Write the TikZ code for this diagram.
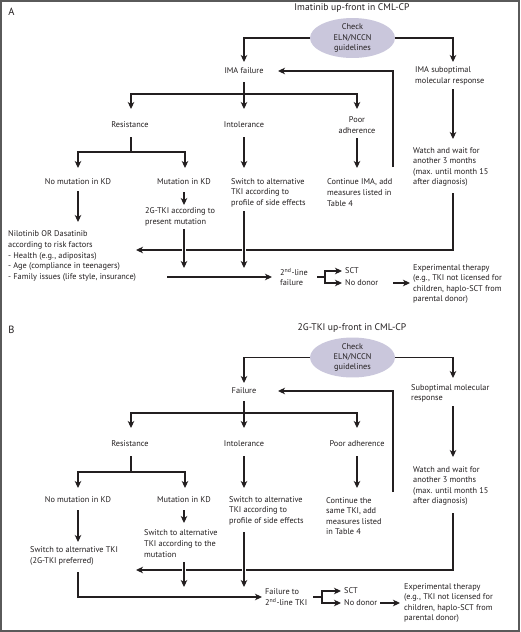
\documentclass[tikz,border=0pt]{standalone}
\usepackage{fontspec}
\setmainfont{PT Sans}
\usetikzlibrary{arrows.meta,shapes.geometric}
\definecolor{txtcol}{HTML}{231F20}
\definecolor{ellcol}{HTML}{CAC7DC}
\definecolor{framecol}{HTML}{5A5A5A}
\tikzset{
  txt/.style={font=\fontsize{8.3}{10.6}\selectfont, inner sep=0pt, text=txtcol},
  lt/.style={txt, align=left, anchor=west},
  ct/.style={txt, align=center},
  ttl/.style={font=\fontsize{9.6}{11}\selectfont, inner sep=0pt, text=txtcol},
  panlab/.style={font=\fontsize{10.5}{12}\selectfont, inner sep=0pt, text=txtcol},
  ell/.style={ellipse, fill=ellcol, minimum width=85pt, minimum height=38pt, inner sep=0pt,
              font=\fontsize{8.3}{10.3}\selectfont, align=center, text=txtcol},
  ln/.style={draw=txtcol, line width=1.1pt},
  arr/.style={ln, -{Stealth[length=7pt,width=6.5pt,inset=2pt]}},
  over/.style={preaction={draw=white, line width=4.5pt, -}}
}
\begin{document}
\begin{tikzpicture}[x=1pt,y=-1pt]
\useasboundingbox (0,0) rectangle (520,632);
\fill[white] (0,0) rectangle (520,632);
\draw[framecol, line width=1.6pt] (1,1) rectangle (519,631);

% ================= Panel A =================
\node[panlab] (labA) at (11.5,12) {A};
\node[ttl] (titA) at (352,8.5) {Imatinib up-front in CML-CP};
\node[ell] (chkA) at (352.5,38) {Check\\ELN/NCCN\\guidelines};
\node[ct] (failA) at (244,71) {IMA failure};
\node[lt] (subA) at (415,76) {IMA suboptimal\\molecular response};
\node[ct] (resA) at (130,125) {Resistance};
\node[ct] (intA) at (244,125) {Intolerance};
\node[ct] (poorA) at (357,125) {Poor\\adherence};
\node[ct] (nomA) at (78,182) {No mutation in KD};
\node[ct] (mutA) at (184,182) {Mutation in KD};
\node[lt] (swA) at (231,192.5) {Switch to alternative\\TKI according to\\profile of side effects};
\node[lt] (contA) at (327,192.5) {Continue IMA, add\\measures listed in\\Table 4};
\node[lt] (watchA) at (413,167) {Watch and wait for\\another 3 months\\(max. until month 15\\after diagnosis)};
\node[lt] (niloA) at (8,256) {Nilotinib OR Dasatinib\\according to risk factors\\- Health (e.g., adipositas)\\- Age (compliance in teenagers)\\- Family issues (life style, insurance)};
\node[lt] (tkiA) at (145,217) {2G-TKI according to\\present mutation};
\node[lt] (secA) at (280,277) {2\textsuperscript{nd}-line\\failure};
\node[lt] (sctA) at (345,271) {SCT};
\node[lt] (donA) at (345,283) {No donor};
\node[lt] (expA) at (413,284) {Experimental therapy\\(e.g., TKI not licensed for\\children, haplo-SCT from\\parental donor)};

\coordinate (aF1) at (244,62);
\coordinate (aS1) at (453,62);
\coordinate (aF2) at (244,82);
\coordinate (aBr) at (244,94);
\coordinate (aI1) at (244,109);
\coordinate (aR1) at (131,109);
\coordinate (aP1) at (357,109);
\coordinate (aS2) at (453,89);
\coordinate (aS3) at (453,139);
\coordinate (aW1) at (393,167);
\coordinate (aF3) at (278,71);
\coordinate (aR2) at (131,137);
\coordinate (aR3) at (131,152);
\coordinate (aNM1) at (78,168);
\coordinate (aM1) at (185,168);
\coordinate (aI2) at (244,137);
\coordinate (aI3) at (244,168);
\coordinate (aP2) at (357,138);
\coordinate (aP3) at (357,168);
\coordinate (aNM2) at (78,191);
\coordinate (aNM3) at (78,222);
\coordinate (aM2) at (184,192);
\coordinate (aM3) at (184,205);
\coordinate (aT1) at (184,229);
\coordinate (aT2) at (184,268);
\coordinate (aI4) at (244,211);
\coordinate (aI5) at (244,268);
\coordinate (aW2) at (453,193);
\coordinate (aN1) at (136,250);
\coordinate (aL1) at (167,277);
\coordinate (aL2) at (272,277);
\coordinate (aK0) at (317,277);
\coordinate (aK1) at (325,277);
\coordinate (aK2) at (342,271);
\coordinate (aK3) at (342,283);
\coordinate (aE1) at (393,283);
\coordinate (aE2) at (410,283);

\draw[arr] (chkA.west) -| (aF1);
\draw[arr] (chkA.east) -| (aS1);
\draw[arr] (aF2) -- (aI1);
\draw[arr] (aBr) -| (aR1);
\draw[arr] (aBr) -| (aP1);
\draw[arr] (aS2) -- (aS3);
\draw[arr] (aW1) |- (aF3);
\draw[ln] (aR2) -- (aR3);
\draw[arr] (aR3) -| (aNM1);
\draw[arr] (aR3) -| (aM1);
\draw[arr] (aI2) -- (aI3);
\draw[arr] (aP2) -- (aP3);
\draw[arr] (aNM2) -- (aNM3);
\draw[arr] (aM2) -- (aM3);
\draw[arr] (aW2) |- (aN1);
\draw[arr, over] (aT1) -- (aT2);
\draw[arr, over] (aI4) -- (aI5);
\draw[arr] (aL1) -- (aL2);
\draw[ln] (aK0) -- (aK1);
\draw[arr] (aK1) |- (aK2);
\draw[arr] (aK1) |- (aK3);
\draw[arr] (aE1) -- (aE2);

% ================= Panel B =================
\node[panlab] (labB) at (11.5,330) {B};
\node[ttl] (titB) at (352,328) {2G-TKI up-front in CML-CP};
\node[ell] (chkB) at (352.5,357.5) {Check\\ELN/NCCN\\guidelines};
\node[ct] (failB) at (244,391) {Failure};
\node[lt] (subB) at (411,393.5) {Suboptimal molecular\\response};
\node[ct] (resB) at (130,444) {Resistance};
\node[ct] (intB) at (244,444) {Intolerance};
\node[ct] (poorB) at (357,444) {Poor adherence};
\node[ct] (nomB) at (78,500) {No mutation in KD};
\node[ct] (mutB) at (184,500) {Mutation in KD};
\node[lt] (swB) at (229,510.5) {Switch to alternative\\TKI according to\\profile of side effects};
\node[lt] (contB) at (326,516) {Continue the\\same TKI, add\\measures listed\\in Table 4};
\node[lt] (watchB) at (413,486) {Watch and wait for\\another 3 months\\(max. until month 15\\after diagnosis)};
\node[lt] (altB) at (30,556) {Switch to alternative TKI\\(2G-TKI preferred)};
\node[lt] (tkiB) at (144,543.5) {Switch to alternative\\TKI according to the\\mutation};
\node[lt] (secB) at (265,597) {Failure to\\2\textsuperscript{nd}-line TKI};
\node[lt] (sctB) at (344,591) {SCT};
\node[lt] (donB) at (344,603) {No donor};
\node[lt] (expB) at (404,603) {Experimental therapy\\(e.g., TKI not licensed for\\children, haplo-SCT from\\parental donor)};

\coordinate (bF1) at (244,383);
\coordinate (bS1) at (453,378);
\coordinate (bF2) at (244,401);
\coordinate (bBr) at (244,413);
\coordinate (bI1) at (244,428);
\coordinate (bR1) at (131,428);
\coordinate (bP1) at (357,428);
\coordinate (bS2) at (453,406);
\coordinate (bS3) at (453,457);
\coordinate (bW1) at (393,492);
\coordinate (bF3) at (278,391);
\coordinate (bR2) at (131,456);
\coordinate (bR3) at (131,472);
\coordinate (bNM1) at (78,488);
\coordinate (bM1) at (185,488);
\coordinate (bI2) at (244,456);
\coordinate (bI3) at (244,488);
\coordinate (bP2) at (357,456);
\coordinate (bP3) at (357,488);
\coordinate (bNM2) at (78,510);
\coordinate (bNM3) at (78,542);
\coordinate (bM2) at (184,510);
\coordinate (bM3) at (184,523);
\coordinate (bT1) at (184,562);
\coordinate (bT2) at (184,587);
\coordinate (bI4) at (244,532);
\coordinate (bI5) at (244,587);
\coordinate (bW2) at (453,513);
\coordinate (bN1) at (136,570);
\coordinate (bA1) at (78,572);
\coordinate (bA2) at (262,597);
\coordinate (bK0) at (313,597);
\coordinate (bK1) at (322,597);
\coordinate (bK2) at (341,591);
\coordinate (bK3) at (341,603);
\coordinate (bE1) at (380,603);
\coordinate (bE2) at (400,603);

\draw[arr] (chkB.west) -| (bF1);
\draw[arr] (chkB.east) -| (bS1);
\draw[arr] (bF2) -- (bI1);
\draw[arr] (bBr) -| (bR1);
\draw[arr] (bBr) -| (bP1);
\draw[arr] (bS2) -- (bS3);
\draw[arr] (bW1) |- (bF3);
\draw[ln] (bR2) -- (bR3);
\draw[arr] (bR3) -| (bNM1);
\draw[arr] (bR3) -| (bM1);
\draw[arr] (bI2) -- (bI3);
\draw[arr] (bP2) -- (bP3);
\draw[arr] (bNM2) -- (bNM3);
\draw[arr] (bM2) -- (bM3);
\draw[arr] (bW2) |- (bN1);
\draw[arr, over] (bT1) -- (bT2);
\draw[arr, over] (bI4) -- (bI5);
\draw[arr] (bA1) |- (bA2);
\draw[ln] (bK0) -- (bK1);
\draw[arr] (bK1) |- (bK2);
\draw[arr] (bK1) |- (bK3);
\draw[arr] (bE1) -- (bE2);
\end{tikzpicture}
\end{document}
